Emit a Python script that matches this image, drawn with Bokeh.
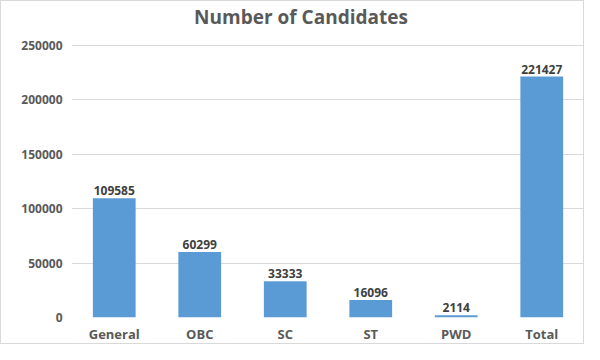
from bokeh.plotting import figure
from bokeh.models import ColumnDataSource, LabelSet, Label, FixedTicker, BasicTickFormatter, Range1d
from bokeh.core.properties import value
from bokeh.embed import file_html
from bokeh.resources import INLINE

categories = ["General", "OBC", "SC", "ST", "PWD", "Total"]
counts = [109585, 60299, 33333, 16096, 2114, 221427]
y_ticks = [0, 50000, 100000, 150000, 200000, 250000]
title_text = "Number of Candidates"

source = ColumnDataSource(data=dict(cat=categories, val=counts, lbl=[str(v) for v in counts]))

FONT = "Open Sans"
GRAY = "#595959"

# frame extends above the top grid line so the title can sit inside it
TOP_GRID_PX = 45     # y pixel of the top grid line
BOTTOM_PX = 317      # y pixel of the zero line
FRAME_TOP_PX = 5
y_end = y_ticks[-1] * (BOTTOM_PX - FRAME_TOP_PX) / (BOTTOM_PX - TOP_GRID_PX)

p = figure(x_range=categories, y_range=Range1d(0, y_end), width=584, height=344,
           output_backend="svg", toolbar_location=None,
           min_border_left=70, min_border_right=1, min_border_top=FRAME_TOP_PX - 1,
           min_border_bottom=28)

p.vbar(x="cat", top="val", width=0.5, source=source, color="#5B9BD5", line_color=None)

labels = LabelSet(x="cat", y="val", text="lbl", source=source, y_offset=3,
                  text_align="center", text_baseline="bottom",
                  text_font=value(FONT), text_font_size=value("12px"), text_font_style="bold",
                  text_color="#404040")
p.add_layout(labels)

# chart title, centred over the whole chart
title = Label(x=len(categories) / 2, y=y_ticks[-1], x_units="data", y_units="data",
              x_offset=-27, y_offset=29, text=title_text, text_align="center",
              text_baseline="middle", text_font=FONT, text_font_size="19px",
              text_font_style="bold", text_color=GRAY)
p.add_layout(title)

p.outline_line_color = None
p.xgrid.grid_line_color = None
p.ygrid.grid_line_color = "#D9D9D9"
p.ygrid.grid_line_width = 1

for ax in (p.xaxis, p.yaxis):
    ax.axis_line_color = None
    ax.major_tick_line_color = None
    ax.minor_tick_line_color = None
    ax.major_tick_out = 0
    ax.major_tick_in = 0
    ax.minor_tick_out = 0
    ax.minor_tick_in = 0
    ax.major_label_text_font = FONT
    ax.major_label_text_font_style = "bold"
    ax.major_label_text_color = GRAY
    ax.major_label_text_font_size = "12px"

p.yaxis.ticker = FixedTicker(ticks=y_ticks)
p.yaxis.formatter = BasicTickFormatter(use_scientific=False)
p.yaxis.major_label_standoff = 9
p.xaxis.major_label_standoff = 7
p.xaxis.major_label_text_font_size = "13px"

p.styles = {"border": "1px solid #D9D9D9"}

open("out.html", "w").write(file_html(p, INLINE))
